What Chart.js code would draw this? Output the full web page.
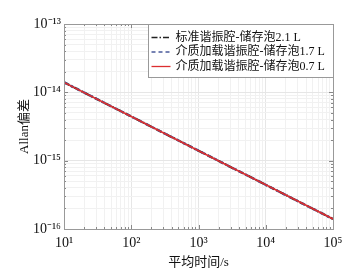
<!DOCTYPE html>
<html>
<head>
<meta charset="utf-8">
<script src="https://cdn.jsdelivr.net/npm/chart.js@4/dist/chart.umd.min.js"></script>
<style>
    html, body { margin: 0; padding: 0; background: #fff; }
    #wrap { width: 350px; height: 275px; }
</style>
</head>
<body>
<div id="wrap"><canvas id="chart"></canvas></div>
<script>
const avgTimes = [10, 100, 1000, 10000, 100000];
const std21 = [1.40e-14, 4.43e-15, 1.40e-15, 4.43e-16, 1.40e-16];
const diel17 = [1.40e-14, 4.43e-15, 1.40e-15, 4.43e-16, 1.40e-16];
const diel07 = [1.40e-14, 4.43e-15, 1.40e-15, 4.43e-16, 1.40e-16];
const seriesNames = [
    "标准谐振腔-储存泡2.1 L",
    "介质加载谐振腔-储存泡1.7 L",
    "介质加载谐振腔-储存泡0.7 L",
];
const xMajor = [10, 100, 1000, 10000, 100000];
const xLabels = ["10¹", "10²", "10³", "10⁴", "10⁵"];
const yMajor = [1e-16, 1e-15, 1e-14, 1e-13];
const yLabels = ["10⁻¹⁶", "10⁻¹⁵", "10⁻¹⁴", "10⁻¹³"];

const serif = '"Liberation Serif", "Noto Sans CJK SC", serif';

function logTicks(majors) {
    const out = [];
    for (let i = 0; i < majors.length; i++) {
        out.push({ value: majors[i], major: true });
        if (i < majors.length - 1) {
            for (let k = 2; k <= 9; k++) out.push({ value: majors[i] * k, major: false });
        }
    }
    return out;
}

function labelFor(majors, labels, v) {
    for (let i = 0; i < majors.length; i++) {
        if (Math.abs(Math.log10(v) - Math.log10(majors[i])) < 1e-6) return labels[i];
    }
    return "";
}

const boxPlugin = {
    id: "boxPlugin",
    afterDatasetsDraw(chart) {
        const ctx = chart.ctx;
        const a = chart.chartArea;
        ctx.save();
        // inward ticks on all four sides
        ctx.strokeStyle = "#888";
        ctx.lineWidth = 1;
        chart.scales.x.ticks.forEach((t) => {
            const px = Math.round(chart.scales.x.getPixelForValue(t.value)) + 0.5;
            const len = t.major ? 4 : 2;
            ctx.beginPath();
            ctx.moveTo(px, a.bottom); ctx.lineTo(px, a.bottom - len);
            ctx.moveTo(px, a.top); ctx.lineTo(px, a.top + len);
            ctx.stroke();
        });
        chart.scales.y.ticks.forEach((t) => {
            const py = Math.round(chart.scales.y.getPixelForValue(t.value)) + 0.5;
            const len = t.major ? 4 : 2;
            ctx.beginPath();
            ctx.moveTo(a.left, py); ctx.lineTo(a.left + len, py);
            ctx.moveTo(a.right, py); ctx.lineTo(a.right - len, py);
            ctx.stroke();
        });
        // plot frame
        ctx.strokeStyle = "#999";
        ctx.strokeRect(Math.round(a.left) + 0.5, Math.round(a.top) + 0.5,
            Math.round(a.right - a.left), Math.round(a.bottom - a.top));

        // legend box
        const w = 185, h = 53;
        const lx = Math.round(a.right - w) + 0.5, ly = Math.round(a.top) + 0.5;
        ctx.fillStyle = "#fff";
        ctx.fillRect(lx, ly, w, h);
        ctx.strokeStyle = "#999";
        ctx.strokeRect(lx, ly, w, h);
        const rows = [13, 27.5, 42];
        const items = [chart.data.datasets[2], chart.data.datasets[1], chart.data.datasets[0]];
        ctx.font = "12px " + serif;
        ctx.textBaseline = "middle";
        items.forEach((ds, i) => {
            const y = ly + rows[i];
            ctx.strokeStyle = ds.borderColor;
            ctx.lineWidth = 1.3;
            ctx.setLineDash(ds.borderDash || []);
            ctx.beginPath();
            ctx.moveTo(lx + 3, y);
            ctx.lineTo(lx + 22, y);
            ctx.stroke();
            ctx.setLineDash([]);
            ctx.fillStyle = "#111";
            ctx.fillText(seriesNames[i], lx + 27, y);
        });
        ctx.restore();
    },
};

const chart = new Chart(document.getElementById("chart"), {
    type: "line",
    data: {
        datasets: [
            {
                label: seriesNames[2],
                data: avgTimes.map((x, i) => ({ x: x, y: diel07[i] })),
                borderColor: "#dc2e30",
                borderWidth: 1.6,
                pointRadius: 0,
                order: 0,
            },
            {
                label: seriesNames[1],
                data: avgTimes.map((x, i) => ({ x: x, y: diel17[i] })),
                borderColor: "#4a5a9a",
                borderWidth: 2.4,
                borderDash: [4, 3],
                pointRadius: 0,
                order: 1,
            },
            {
                label: seriesNames[0],
                data: avgTimes.map((x, i) => ({ x: x, y: std21[i] })),
                borderColor: "#222",
                borderWidth: 2.2,
                borderDash: [6, 2, 1.5, 2],
                pointRadius: 0,
                order: 2,
            },
        ],
    },
    options: {
        responsive: true,
        maintainAspectRatio: false,
        animation: false,
        events: [],
        layout: { padding: { top: 24, right: 17, bottom: 0, left: 0 } },
        plugins: { legend: { display: false }, tooltip: { enabled: false } },
        scales: {
            x: {
                type: "logarithmic",
                min: 10,
                max: 100000,
                afterBuildTicks: (s) => { s.ticks = logTicks(xMajor); },
                afterFit: (s) => { s.height = 46; },
                grid: {
                    color: (c) => (c.tick && c.tick.major ? "#e6e6e6" : "#f1f1f1"),
                    drawTicks: false,
                },
                border: { display: false },
                ticks: {
                    autoSkip: false,
                    maxRotation: 0,
                    padding: 6,
                    color: "#111",
                    font: { family: serif, size: 14 },
                    callback: (v) => labelFor(xMajor, xLabels, v),
                },
                title: {
                    display: true,
                    text: "平均时间/s",
                    color: "#111",
                    font: { family: serif, size: 13 },
                    padding: { top: 0, bottom: 5 },
                },
            },
            y: {
                type: "logarithmic",
                min: 1e-16,
                max: 1e-13,
                afterBuildTicks: (s) => { s.ticks = logTicks(yMajor); },
                afterFit: (s) => { s.width = 64; },
                grid: {
                    color: (c) => (c.tick && c.tick.major ? "#e6e6e6" : "#f1f1f1"),
                    drawTicks: false,
                },
                border: { display: false },
                ticks: {
                    autoSkip: false,
                    padding: 3,
                    color: "#111",
                    font: { family: serif, size: 14 },
                    callback: (v) => labelFor(yMajor, yLabels, v),
                },
                title: {
                    display: true,
                    text: "Allan偏差",
                    color: "#111",
                    font: { family: serif, size: 13 },
                    padding: { top: 17, bottom: 0 },
                },
            },
        },
    },
    plugins: [boxPlugin],
});
</script>
</body>
</html>
